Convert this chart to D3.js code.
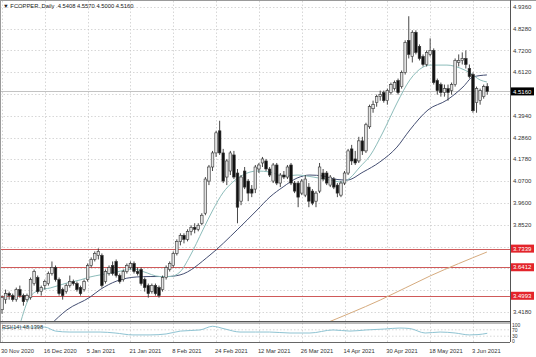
<!DOCTYPE html>
<html><head><meta charset="utf-8">
<script src="https://cdn.jsdelivr.net/npm/d3@7"></script>
<style>body{margin:0;background:#fff}svg{display:block;font-family:"Liberation Sans",Arial,sans-serif}</style>
</head><body><svg id="c" width="536" height="357"></svg>
<script>
// ---- data ----
const opens  = [3.43,3.48,3.51,3.50,3.48,3.53,3.50,3.48,3.49,3.56,3.59,3.52,3.55,3.56,3.61,3.64,3.58,3.53,3.52,3.55,3.57,3.56,3.54,3.53,3.58,3.65,3.68,3.70,3.70,3.57,
3.61,3.65,3.67,3.60,3.58,3.62,3.64,3.66,3.62,3.63,3.58,3.55,3.52,3.55,3.54,3.53,3.59,3.63,3.65,3.71,3.77,3.80,3.78,3.82,3.84,3.83,3.86,3.91,4.07,4.14,
4.21,4.32,4.21,4.09,4.12,4.20,4.11,3.97,4.12,4.07,4.03,4.03,4.13,4.16,4.17,4.13,4.07,4.15,4.06,4.10,4.09,4.15,4.06,4.06,4.01,4.00,4.04,4.02,3.97,4.02,
4.11,4.11,4.05,4.08,4.05,4.00,4.06,4.11,4.23,4.18,4.17,4.27,4.22,4.34,4.43,4.46,4.49,4.51,4.47,4.51,4.53,4.57,4.54,4.61,4.77,4.69,4.81,4.74,4.69,4.65,
4.70,4.72,4.57,4.55,4.51,4.53,4.52,4.55,4.66,4.67,4.68,4.63,4.60,4.46,4.47,4.49,4.5408];
const highs  = [3.50,3.53,3.52,3.51,3.54,3.55,3.51,3.51,3.59,3.63,3.60,3.55,3.58,3.62,3.67,3.65,3.59,3.54,3.56,3.60,3.58,3.57,3.55,3.58,3.66,3.69,3.72,3.735,3.71,3.63,
3.65,3.67,3.68,3.61,3.63,3.66,3.67,3.67,3.64,3.64,3.59,3.56,3.56,3.56,3.55,3.60,3.65,3.67,3.72,3.78,3.81,3.81,3.83,3.85,3.86,3.86,3.91,4.09,4.15,4.22,
4.32,4.37,4.23,4.18,4.22,4.22,4.13,4.10,4.14,4.08,4.05,4.15,4.16,4.19,4.18,4.14,4.16,4.16,4.11,4.12,4.15,4.16,4.07,4.07,4.08,4.10,4.06,4.03,4.02,4.16,
4.13,4.12,4.10,4.09,4.06,4.07,4.12,4.23,4.25,4.22,4.29,4.29,4.36,4.45,4.47,4.50,4.52,4.52,4.53,4.56,4.57,4.58,4.62,4.77,4.89,4.82,4.82,4.75,4.70,4.72,
4.78,4.73,4.58,4.56,4.55,4.55,4.56,4.68,4.70,4.71,4.72,4.65,4.61,4.54,4.53,4.55,4.5570];
const lows   = [3.41,3.46,3.48,3.47,3.47,3.49,3.45,3.47,3.48,3.55,3.51,3.50,3.53,3.55,3.60,3.57,3.50,3.48,3.51,3.54,3.55,3.52,3.50,3.52,3.57,3.64,3.67,3.68,3.54,3.56,
3.60,3.60,3.59,3.56,3.57,3.61,3.63,3.61,3.60,3.55,3.52,3.49,3.51,3.50,3.49,3.52,3.58,3.62,3.64,3.70,3.75,3.76,3.77,3.80,3.81,3.82,3.85,3.90,4.05,4.12,
4.19,4.20,4.06,4.05,4.10,4.08,3.86,3.95,4.03,3.97,3.99,4.01,4.11,4.14,4.12,4.09,4.06,4.05,4.04,4.08,4.08,4.05,4.01,3.94,4.00,3.99,3.94,3.95,3.94,4.01,
4.07,4.05,4.04,4.03,3.99,3.99,4.05,4.10,4.15,4.15,4.16,4.20,4.21,4.33,4.41,4.44,4.47,4.46,4.45,4.50,4.52,4.50,4.53,4.60,4.68,4.66,4.70,4.67,4.64,4.64,
4.69,4.55,4.50,4.49,4.49,4.47,4.50,4.54,4.64,4.65,4.63,4.58,4.41,4.41,4.45,4.48,4.5000];
const closes = [3.49,3.51,3.50,3.48,3.53,3.50,3.47,3.50,3.58,3.62,3.52,3.54,3.57,3.61,3.64,3.58,3.51,3.50,3.55,3.57,3.56,3.53,3.51,3.57,3.65,3.68,3.71,3.72,3.55,3.62,
3.64,3.61,3.60,3.57,3.62,3.65,3.66,3.62,3.61,3.56,3.54,3.51,3.55,3.51,3.50,3.59,3.64,3.66,3.71,3.77,3.80,3.78,3.82,3.84,3.83,3.85,3.90,4.08,4.14,4.21,
4.31,4.21,4.07,4.17,4.21,4.09,3.94,4.09,4.04,4.01,4.01,4.14,4.15,4.18,4.13,4.10,4.15,4.06,4.10,4.09,4.14,4.06,4.02,3.99,4.07,4.08,3.97,3.96,4.01,4.14,
4.08,4.06,4.09,4.04,4.01,4.06,4.11,4.22,4.17,4.16,4.27,4.22,4.35,4.44,4.45,4.49,4.50,4.47,4.52,4.55,4.56,4.51,4.61,4.76,4.70,4.81,4.71,4.68,4.65,4.71,
4.72,4.56,4.52,4.51,4.53,4.51,4.55,4.67,4.67,4.68,4.65,4.59,4.42,4.53,4.52,4.54,4.5160];

const dateTickIndex  = [0,12,24,36,48,60,72,84,96,108,120,132];
const dateTickLabels = ["30 Nov 2020","16 Dec 2020","5 Jan 2021","21 Jan 2021","8 Feb 2021","24 Feb 2021","12 Mar 2021","26 Mar 2021","14 Apr 2021","30 Apr 2021","18 May 2021","3 Jun 2021"];
const priceTicks = [4.936,4.828,4.720,4.612,4.504,4.394,4.286,4.178,4.070,3.960,3.852,3.744,3.636,3.528,3.418];
const levelValues = [3.7339,3.6412,3.4993];
const lastPrice = 4.5160;
const titleText = "\u25BC FCOPPER.,Daily  4.5408 4.5570 4.5000 4.5160";

// moving averages: [bar index, price]
const fastMA = [[5.0,3.354],[7.8,3.493],[10.6,3.528],[13.5,3.538],[18.2,3.563],[21.9,3.578],[24.7,3.593],[27.5,3.603],[32.2,3.618],[36.7,3.633],[39.5,3.620],[44.3,3.595],[47.1,3.595],[49.9,3.618],[52.7,3.697],[56.3,3.827],[59.1,3.926],[61.9,4.011],[64.7,4.065],[67.5,4.100],[71.5,4.120],[75.1,4.115],[78.8,4.095],[82.7,4.100],[87.2,4.090],[91.9,4.075],[95.3,4.065],[97.5,4.085],[100.3,4.140],[103.1,4.195],[106.8,4.314],[110.7,4.458],[114.3,4.573],[118.0,4.637],[120.0,4.647],[124.7,4.647],[128.4,4.632],[131.2,4.608],[134.0,4.573],[135.9,4.563]];
const slowMA = [[13.5,3.354],[18.2,3.429],[24.7,3.493],[27.5,3.530],[32.2,3.573],[37.8,3.593],[41.5,3.595],[46.2,3.595],[49.9,3.603],[58.3,3.702],[65.9,3.827],[71.5,3.926],[75.1,3.991],[78.8,4.041],[82.7,4.085],[86.3,4.100],[90.0,4.095],[93.9,4.078],[96.7,4.075],[101.2,4.115],[105.9,4.165],[110.7,4.239],[114.3,4.324],[119.4,4.424],[124.7,4.473],[129.2,4.538],[132.0,4.588],[135.9,4.598]];
const longMA = [[89.5,3.354],[106.0,3.478],[120.0,3.598],[135.9,3.717]];
const rsiData = [[0,75],[5,87],[12,87],[15,62],[19,56],[27.5,56],[31.7,50],[36.7,38],[41.5,38],[46,44],[50,62],[55.5,69],[59,92],[62.5,75],[66.7,56],[71,56],[75,56],[80.7,50],[86.3,50],[92.8,69],[97.5,62],[102,69],[107.3,75],[111.5,81],[114.3,78],[118.6,50],[122.8,56],[127,50],[131,38],[133.4,40],[136,48.14]];
const rsiLevels = [70,30];
const rsiAxis = [100,70,30,0];
const rsiText = "RSI(14) 48.1398";

// ---- drawing ----
const svg = d3.select("#c");
const PR = 510, MB = 321, RT = 323, RB = 342;
const x = d3.scaleLinear().domain([0,136]).range([2,487.25]);
const y = d3.scaleLinear().domain([3.3738,4.9708]).range([MB,0]);
const yr = d3.scaleLinear().domain([0,100]).range([341,325]);

svg.append("defs").append("clipPath").attr("id","mc").append("rect").attr("x",0).attr("y",1).attr("width",PR).attr("height",MB-1);
svg.append("defs").append("clipPath").attr("id","rc").append("rect").attr("x",0).attr("y",RT).attr("width",PR).attr("height",RB-RT);

// grid
const grid = svg.append("g").attr("stroke","#c6c6c6").attr("stroke-width",0.7).attr("stroke-dasharray","1.5,2");
priceTicks.forEach(t=>grid.append("line").attr("x1",0).attr("x2",PR).attr("y1",Math.round(y(t))+0.5).attr("y2",Math.round(y(t))+0.5));
dateTickIndex.forEach(i=>grid.append("line").attr("x1",Math.round(x(i))+0.5).attr("x2",Math.round(x(i))+0.5).attr("y1",1).attr("y2",RB));
rsiLevels.forEach(v=>grid.append("line").attr("x1",0).attr("x2",PR).attr("y1",yr(v)).attr("y2",yr(v)));

// level lines
levelValues.forEach(v=>svg.append("line").attr("x1",0).attr("x2",PR).attr("y1",Math.round(y(v))+0.5).attr("y2",Math.round(y(v))+0.5).attr("stroke","#cf5a5a").attr("stroke-width",1));
// bid line
svg.append("line").attr("x1",0).attr("x2",PR).attr("y1",Math.round(y(lastPrice))+0.5).attr("y2",Math.round(y(lastPrice))+0.5).attr("stroke","#b4b4b4").attr("stroke-width",0.8);

// moving averages
const main = svg.append("g").attr("clip-path","url(#mc)");
const ln = d3.line().x(d=>x(d[0])).y(d=>y(d[1])).curve(d3.curveMonotoneX);
main.append("path").attr("d",ln(longMA)).attr("fill","none").attr("stroke","#d6ab7e").attr("stroke-width",1);
main.append("path").attr("d",ln(slowMA)).attr("fill","none").attr("stroke","#444e72").attr("stroke-width",1);
main.append("path").attr("d",ln(fastMA)).attr("fill","none").attr("stroke","#8cbcba").attr("stroke-width",1);

// candles
const bars = d3.range(closes.length);
const cg = main.append("g");
cg.selectAll("line.w").data(bars).join("line").attr("class","w")
  .attr("x1",i=>x(i)).attr("x2",i=>x(i)).attr("y1",i=>y(highs[i])).attr("y2",i=>y(lows[i]))
  .attr("stroke","#333").attr("stroke-width",0.9);
cg.selectAll("rect.b").data(bars).join("rect").attr("class","b")
  .attr("x",i=>x(i)-1.3).attr("width",2.6)
  .attr("y",i=>y(Math.max(opens[i],closes[i])))
  .attr("height",i=>Math.max(0.8,Math.abs(y(opens[i])-y(closes[i]))))
  .attr("fill",i=>closes[i]>=opens[i]?"#e2e2e2":"#111")
  .attr("stroke","#333").attr("stroke-width",0.6);

// RSI
const rl = d3.line().x(d=>x(d[0])).y(d=>yr(d[1])).curve(d3.curveMonotoneX);
svg.append("g").attr("clip-path","url(#rc)").append("path").attr("d",rl(rsiData)).attr("fill","none").attr("stroke","#8ec3d2").attr("stroke-width",1);

// frames
svg.append("line").attr("x1",0).attr("x2",536).attr("y1",0.5).attr("y2",0.5).attr("stroke","#9a9a9a");
svg.append("line").attr("x1",0.5).attr("x2",0.5).attr("y1",0).attr("y2",RB).attr("stroke","#9a9a9a");
svg.append("line").attr("x1",PR+0.5).attr("x2",PR+0.5).attr("y1",0).attr("y2",RB).attr("stroke","#555");
svg.append("line").attr("x1",0).attr("x2",PR).attr("y1",MB+0.5).attr("y2",MB+0.5).attr("stroke","#555");
svg.append("line").attr("x1",0).attr("x2",PR).attr("y1",MB+2).attr("y2",MB+2).attr("stroke","#777");
svg.append("line").attr("x1",0).attr("x2",PR).attr("y1",RB+0.5).attr("y2",RB+0.5).attr("stroke","#666");

// price axis labels
const markers = levelValues.concat([lastPrice]);
const fmt = d3.format(".4f");
priceTicks.forEach(t=>{
  if (markers.some(m=>Math.abs(y(m)-y(t))<6)) return;
  svg.append("text").attr("x",513).attr("y",y(t)+2.1).attr("font-size",6).attr("fill","#333").text(fmt(t));
});
levelValues.forEach(v=>{
  svg.append("rect").attr("x",PR+1).attr("y",y(v)-4).attr("width",23).attr("height",8).attr("fill","#e3242b");
  svg.append("text").attr("x",513).attr("y",y(v)+2.1).attr("font-size",6).attr("fill","#fff").text(fmt(v));
});
svg.append("rect").attr("x",PR+1).attr("y",y(lastPrice)-4).attr("width",23).attr("height",8).attr("fill","#000");
svg.append("text").attr("x",513).attr("y",y(lastPrice)+2.1).attr("font-size",6).attr("fill","#fff").text(fmt(lastPrice));

// RSI axis
rsiAxis.forEach(v=>svg.append("text").attr("x",512).attr("y",yr(v)+1.8).attr("font-size",5).attr("fill","#333").text(v));
svg.append("text").attr("x",2).attr("y",328.5).attr("font-size",5.6).attr("fill","#333").text(rsiText);

// date labels
dateTickIndex.forEach((i,k)=>svg.append("text").attr("x",x(i)-1).attr("y",353).attr("font-size",5.8).attr("fill","#333").text(dateTickLabels[k]));

// title
svg.append("text").attr("x",3).attr("y",8).attr("font-size",5.8).attr("fill","#222").attr("xml:space","preserve").text(titleText);
</script></body></html>
